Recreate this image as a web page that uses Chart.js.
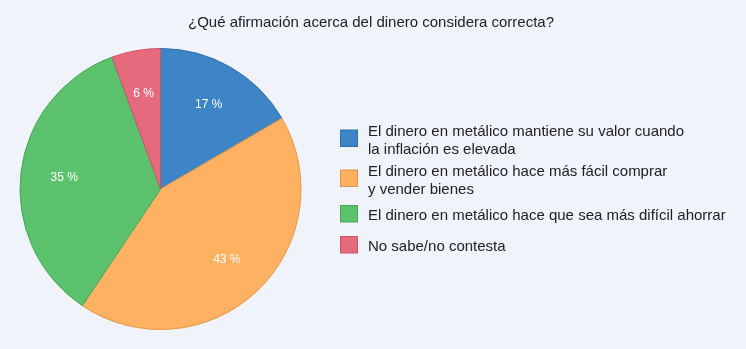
<!DOCTYPE html>
<html>
<head>
<meta charset="utf-8">
<script src="https://cdn.jsdelivr.net/npm/chart.js@4"></script>
<style>
  html, body { margin: 0; padding: 0; background: #f0f3fa; }
  #wrap { position: relative; width: 746px; height: 349px; }
</style>
</head>
<body>
<div id="wrap"><canvas id="myChart" width="746" height="349"></canvas></div>
<script>
const title = '¿Qué afirmación acerca del dinero considera correcta?'
const categories = [
    ['El dinero en metálico mantiene su valor cuando', 'la inflación es elevada'],
    ['El dinero en metálico hace más fácil comprar', 'y vender bienes'],
    ['El dinero en metálico hace que sea más difícil ahorrar'],
    ['No sabe/no contesta']
]
const shares = [16.6, 42.8, 35.0, 5.6]

const fills = ['#3d85c6', '#ffb162', '#5cc26d', '#e66a7e']
const edges = ['#2f6fab', '#e0964a', '#46a557', '#c9546a']
const FONT = 'Arial, "Liberation Sans", sans-serif'

// title, slice labels and the legend on the right
const extras = {
    id: 'extras',
    afterDraw(chart) {
        const ctx = chart.ctx
        ctx.save()
        ctx.fillStyle = '#222'
        ctx.font = '15px ' + FONT
        ctx.textAlign = 'center'
        ctx.textBaseline = 'alphabetic'
        ctx.fillText(title, 371, 27)

        // percent labels inside slices
        const meta = chart.getDatasetMeta(0)
        const values = chart.data.datasets[0].data
        ctx.fillStyle = '#fff'
        ctx.font = '12px ' + FONT
        ctx.textBaseline = 'middle'
        meta.data.forEach((arc, i) => {
            const mid = (arc.startAngle + arc.endAngle) / 2
            const r = arc.outerRadius * 0.69
            ctx.fillText(Math.round(values[i]) + ' %', arc.x + Math.cos(mid) * r, arc.y + Math.sin(mid) * r)
        })

        // legend
        const lineH = 17.7
        const heights = chart.data.labels.map(l => Math.max(31, l.length * lineH + 4.6))
        const total = heights.reduce((a, b) => a + b, 0)
        let top = meta.data[0].y - total / 2
        ctx.font = '15px ' + FONT
        ctx.textAlign = 'left'
        ctx.textBaseline = 'alphabetic'
        chart.data.labels.forEach((lines, i) => {
            const cy = top + heights[i] / 2
            ctx.fillStyle = fills[i]
            ctx.fillRect(340.5, cy - 8, 17, 16.5)
            ctx.strokeStyle = edges[i]
            ctx.lineWidth = 1
            ctx.strokeRect(340.5, cy - 8, 17, 16.5)
            ctx.fillStyle = '#222'
            lines.forEach((txt, j) => {
                const y = cy + 6.8 - (lines.length - 1) * lineH / 2 + j * lineH
                ctx.fillText(txt, 368, y)
            })
            top += heights[i]
        })
        ctx.restore()
    }
}

new Chart(document.getElementById('myChart'), {
    type: 'pie',
    data: {
        labels: categories,
        datasets: [{
            data: shares,
            backgroundColor: fills,
            borderColor: edges,
            borderWidth: 1
        }]
    },
    options: {
        responsive: false,
        animation: false,
        layout: { padding: { top: 48, bottom: 19, left: 19, right: 444 } },
        plugins: {
            legend: { display: false },
            tooltip: { enabled: false }
        }
    },
    plugins: [extras]
})
</script>
</body>
</html>
